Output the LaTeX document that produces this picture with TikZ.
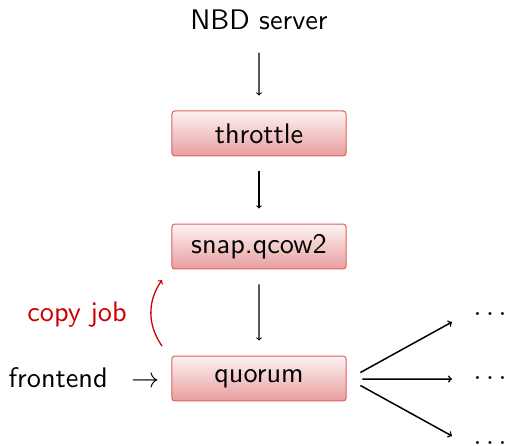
\documentclass[tikz,border=0pt]{standalone}
\usepackage{fontspec}
\usetikzlibrary{calc}
\definecolor{bxborder}{RGB}{222,96,96}
\definecolor{bxtop}{RGB}{253,243,243}
\definecolor{bxbot}{RGB}{233,158,158}
\definecolor{cjred}{RGB}{204,0,0}
\begin{document}
\begin{tikzpicture}[x=1pt,y=-1pt,
  lbl/.style={font=\sffamily, scale=2.83, inner sep=0pt},
  box/.style={lbl, draw=bxborder, top color=bxtop, bottom color=bxbot,
    rounded corners=2.8pt, minimum width=61.5pt, minimum height=15.9pt, line width=1pt},
  arr/.style={->, line width=1.1pt},
  fan/.style={->, line width=1.5pt}]
\useasboundingbox (0,0) rectangle (506,446);
\node[lbl] (nbd) at (259,20) {NBD server};
\node[box] (thr) at (259,133.5) {throttle};
\node[box] (snap) at (259,246.5) {snap.qcow2};
\node[box] (quo) at (259,378.5) {quorum};
\draw[arr, shorten <=22pt, shorten >=14pt] (nbd) -- (thr);
\draw[arr, shorten <=14pt, shorten >=14pt] (thr) -- (snap);
\draw[arr, shorten <=14pt, shorten >=14pt] (snap) -- (quo);
\node[lbl, anchor=west] (fe) at (8,378) {frontend\hspace{8.5pt}$\rightarrow$};
\node[lbl, text=cjred] (cj) at (77,315) {copy job};
\coordinate (cs) at (162,346);
\coordinate (ce) at (162,280);
\draw[arr, cjred, line width=1.3pt] (cs) to[bend left=35] (ce);
\node[lbl, anchor=base west] (d1) at (473,315.5) {$\ldots$};
\node[lbl, anchor=base west] (d2) at (473,379.5) {$\ldots$};
\node[lbl, anchor=base west] (d3) at (473,444.5) {$\ldots$};
\draw[fan] ($(quo.east)+(13,-6)$) -- ($(d1.west)+(-21,8)$);
\draw[fan] ($(quo.east)+(15,0.5)$) -- ($(d2.west)+(-21,1)$);
\draw[fan] ($(quo.east)+(13,7)$) -- ($(d3.west)+(-21,-7)$);
\end{tikzpicture}
\end{document}
